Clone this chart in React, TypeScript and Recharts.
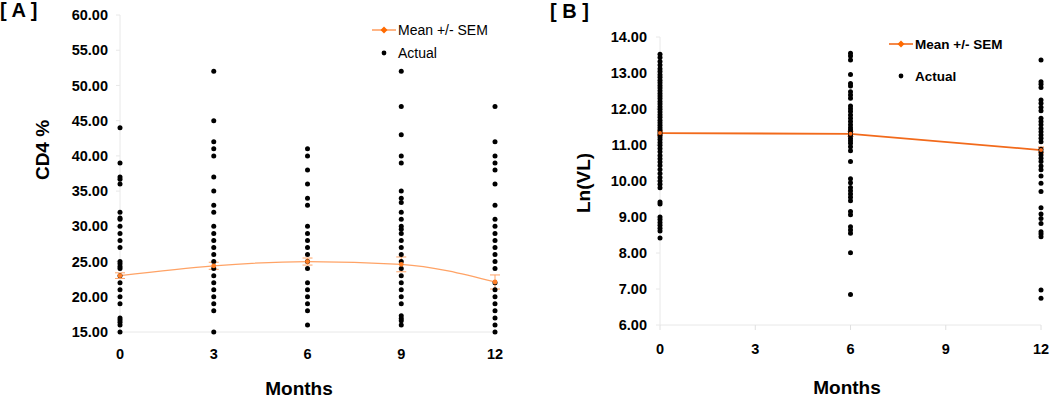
import { ComposedChart, Scatter, Line, ErrorBar, XAxis, YAxis, Legend } from 'recharts';

// Panel A: CD4 % by month
const cd4Months = [0, 3, 6, 9, 12];
const cd4Month0 = [44, 39, 37, 36.7, 36, 32, 31.2, 31, 30, 29, 28, 27, 25, 24.7, 24.3, 24, 23, 22, 21, 20, 19, 17, 16.7, 16.4, 16, 15];
const cd4Month3 = [52, 45, 42, 41, 40, 37, 35, 33, 32, 30, 29, 28, 27, 26, 25, 24, 23, 22, 21, 20, 19, 18, 15];
const cd4Month6 = [41, 40, 38, 36, 34, 33, 30, 29, 28, 27, 26, 25, 24, 22, 21, 20, 19, 18, 16];
const cd4Month9 = [52, 47, 43, 40, 39, 35, 34, 33.4, 32, 31, 30, 29.6, 29, 28, 27, 26, 25, 24, 23, 22, 21, 20, 19, 17.3, 16.9, 16.6, 16];
const cd4Month12 = [47, 42, 40, 39, 38, 36, 33, 31, 30, 29, 28, 27, 26, 25, 24, 22, 21, 20, 19, 18, 17, 16, 15];
const cd4Mean = [23.0, 24.4, 25.0, 24.6, 22.1];
const cd4Sem = [0.4, 0.5, 0.5, 1.05, 1.0];
const cd4Ticks = [15, 20, 25, 30, 35, 40, 45, 50, 55, 60];

// Panel B: Ln(VL) by month
const vlMonths = [0, 6, 12];
const vlMonth0 = [13.52, 13.43, 13.32, 13.22, 13.12, 13.04, 12.95, 12.88, 12.8, 12.73, 12.65, 12.58, 12.51, 12.43, 12.36, 12.29, 12.21, 12.14, 12.06, 11.99, 11.92, 11.84, 11.77, 11.69, 11.62, 11.55, 11.48, 11.42, 11.35, 11.29, 11.22, 11.15, 11.07, 10.99, 10.9, 10.81, 10.71, 10.62, 10.53, 10.43, 10.32, 10.21, 10.1, 10.0, 9.91, 9.81, 9.42, 9.36, 9.0, 8.93, 8.85, 8.77, 8.69, 8.61, 8.42];
const vlMonth6 = [13.55, 13.47, 13.36, 12.96, 12.71, 12.64, 12.48, 12.39, 12.3, 12.08, 12.01, 11.93, 11.83, 11.74, 11.65, 11.56, 11.48, 11.42, 11.34, 11.27, 11.19, 11.12, 11.05, 10.95, 10.84, 10.54, 10.06, 9.95, 9.82, 9.73, 9.64, 9.55, 9.45, 9.15, 9.06, 8.73, 8.64, 8.55, 8.01, 6.85];
const vlMonth12 = [13.36, 12.76, 12.69, 12.6, 12.25, 12.16, 12.05, 11.95, 11.74, 11.65, 11.56, 11.46, 11.37, 11.28, 11.19, 11.09, 10.88, 10.81, 10.72, 10.63, 10.54, 10.42, 10.31, 10.14, 9.94, 9.71, 9.26, 9.08, 8.96, 8.82, 8.59, 8.53, 8.45, 6.97, 6.74];
const vlMean = [11.33, 11.31, 10.86];
const vlSem = [0.06, 0.07, 0.08];
const vlTicks = [6, 7, 8, 9, 10, 11, 12, 13, 14];

const monthTicks = [0, 3, 6, 9, 12];

const FONT = '"Liberation Sans", Arial, sans-serif';

const toPoints = (months: number[], columns: number[][]) =>
  months.flatMap((m, i) => columns[i].map(v => ({ x: m, y: v })));

const cd4Actual = toPoints(cd4Months, [cd4Month0, cd4Month3, cd4Month6, cd4Month9, cd4Month12]);
const cd4MeanData = cd4Months.map((m, i) => ({ x: m, y: cd4Mean[i], sem: cd4Sem[i] }));
const vlActual = toPoints(vlMonths, [vlMonth0, vlMonth6, vlMonth12]);
const vlMeanData = vlMonths.map((m, i) => ({ x: m, y: vlMean[i], sem: vlSem[i] }));

const blackDot = (props: any) => <circle cx={props.cx} cy={props.cy} r={2.5} fill="#000" />;

const tickStyle = { fontFamily: FONT, fontSize: 14.5, fontWeight: 700, fill: '#000' };

function makeLegend(lineColor: string, bold: boolean, gap: number) {
  return () => (
    <div style={{ fontFamily: FONT, fontSize: bold ? 13.5 : 14, fontWeight: bold ? 700 : 400, color: '#000' }}>
      <div style={{ display: 'flex', alignItems: 'center', height: 18 }}>
        <svg width={24} height={12} style={{ marginRight: 2 }}>
          <line x1={0} y1={6} x2={24} y2={6} stroke={lineColor} strokeWidth={1.6} />
          <path d="M12 2.5 L15.5 6 L12 9.5 L8.5 6 Z" fill="#FF6A00" />
        </svg>
        <span>Mean +/- SEM</span>
      </div>
      <div style={{ display: 'flex', alignItems: 'center', height: 18, marginTop: gap }}>
        <svg width={24} height={12} style={{ marginRight: 2 }}>
          <circle cx={12} cy={6} r={2.4} fill="#000" />
        </svg>
        <span>Actual</span>
      </div>
    </div>
  );
}

function CD4Panel() {
  return (
    <ComposedChart width={520} height={400} margin={{ top: 15, right: 25, left: 0, bottom: 0 }}>
      <XAxis
        type="number" dataKey="x" domain={[0, 12]} ticks={monthTicks}
        axisLine={{ stroke: '#e8e8e8' }} tickLine={false} tickSize={0} tickMargin={17}
        tick={tickStyle} height={68}
        label={{ content: () => <text x={299} y={395} textAnchor="middle" style={{ fontFamily: FONT, fontSize: 19, fontWeight: 700 }}>Months</text> }}
      />
      <YAxis
        type="number" dataKey="y" domain={[15, 60]} ticks={cd4Ticks} width={120}
        axisLine={{ stroke: '#e8e8e8' }} tickLine={{ stroke: '#e8e8e8' }} tickSize={4} tickMargin={8}
        tick={tickStyle} tickFormatter={(v: number) => v.toFixed(2)}
        label={{ content: () => <text x={49} y={150} textAnchor="middle" transform="rotate(-90 49 150)" style={{ fontFamily: FONT, fontSize: 19, fontWeight: 700 }}>CD4 %</text> }}
      />
      <Legend layout="vertical" align="center" verticalAlign="middle"
        wrapperStyle={{ left: 372, top: 21, width: 150, height: 50 }} content={makeLegend('#FFA366', false, 5)} />
      <Scatter data={cd4Actual} shape={blackDot} isAnimationActive={false} />
      <Line data={cd4MeanData} dataKey="y" type="monotone" stroke="#FFA366" strokeWidth={1.3}
        dot={{ r: 2.4, fill: '#FF7F27', stroke: 'none' }} activeDot={false} isAnimationActive={false}>
        <ErrorBar dataKey="sem" direction="y" width={5} stroke="#FFA366" strokeWidth={1} />
      </Line>
    </ComposedChart>
  );
}

function VLPanel() {
  return (
    <ComposedChart width={530} height={400} margin={{ top: 37, right: 9, left: 0, bottom: 0 }}>
      <XAxis
        type="number" dataKey="x" domain={[0, 12]} ticks={monthTicks}
        axisLine={{ stroke: '#e8e8e8' }} tickLine={{ stroke: '#e0e0e0' }} tickSize={5} tickMargin={14}
        tick={tickStyle} height={75}
        label={{ content: () => <text x={327} y={394} textAnchor="middle" style={{ fontFamily: FONT, fontSize: 19, fontWeight: 700 }}>Months</text> }}
      />
      <YAxis
        type="number" dataKey="y" domain={[6, 14]} ticks={vlTicks} width={140}
        axisLine={{ stroke: '#e8e8e8' }} tickLine={{ stroke: '#e8e8e8' }} tickSize={4} tickMargin={9}
        tick={tickStyle} tickFormatter={(v: number) => v.toFixed(2)}
        label={{ content: () => <text x={70} y={183} textAnchor="middle" transform="rotate(-90 70 183)" style={{ fontFamily: FONT, fontSize: 19, fontWeight: 700 }}>Ln(VL)</text> }}
      />
      <Legend layout="vertical" align="center" verticalAlign="middle"
        wrapperStyle={{ left: 369, top: 35, width: 150, height: 60 }} content={makeLegend('#F26A1B', true, 14)} />
      <Scatter data={vlActual} shape={blackDot} isAnimationActive={false} />
      <Line data={vlMeanData} dataKey="y" type="linear" stroke="#F26A1B" strokeWidth={1.8}
        dot={{ r: 2, fill: '#F26A1B', stroke: 'none' }} activeDot={false} isAnimationActive={false}>
        <ErrorBar dataKey="sem" direction="y" width={3} stroke="#F26A1B" strokeWidth={1} />
      </Line>
    </ComposedChart>
  );
}

export default function App() {
  return (
    <div style={{ position: 'absolute', left: 0, top: 0, width: 1050, height: 400, background: '#fff', overflow: 'hidden' }}>
      <div style={{ position: 'absolute', left: 0, top: 0 }}>
        <CD4Panel />
      </div>
      <div style={{ position: 'absolute', left: 520, top: 0 }}>
        <VLPanel />
      </div>
      <div style={{ position: 'absolute', left: 0, top: -1, fontFamily: FONT, fontSize: 20, fontWeight: 700 }}>[ A ]</div>
      <div style={{ position: 'absolute', left: 550, top: 0, fontFamily: FONT, fontSize: 20, fontWeight: 700 }}>[ B ]</div>
    </div>
  );
}
